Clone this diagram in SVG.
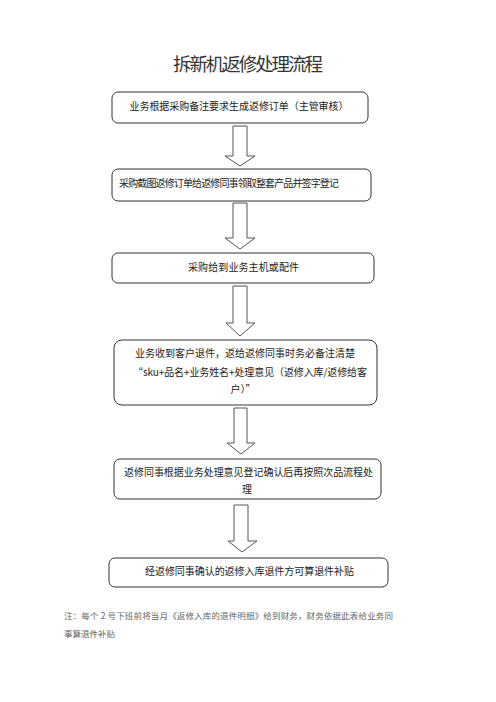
<svg xmlns="http://www.w3.org/2000/svg" width="496" height="702" viewBox="0 0 496 702">
<style>
.box{fill:#fff;stroke:#333;stroke-width:1}
.arr{fill:#fff;stroke:#555;stroke-width:1;stroke-linejoin:miter}
.t{font-family:"Noto Sans CJK SC","Noto Sans",sans-serif;font-size:10px;fill:#222}
.c{text-anchor:middle}
.title{font-family:"Noto Sans CJK SC",sans-serif;font-size:18.5px;fill:#333;text-anchor:middle}
.note{font-family:"Noto Sans CJK SC",serif;font-size:8.5px;fill:#666}
</style>
<rect width="496" height="702" fill="#fff"/>
<text class="title" x="248" y="71" textLength="150">拆新机返修处理流程</text>
<g id="connectors">
<polygon class="arr" points="233,126 247,126 247,156 255,156 240,166 225,156 233,156"/>
<polygon class="arr" points="233,203 247,203 247,238 255,238 240,249 225,238 233,238"/>
<polygon class="arr" points="233,286 247,286 247,323 255,323 240,336 226,323 233,323"/>
<polygon class="arr" points="234,408 247,408 247,443 255,443 241,454 227,443 234,443"/>
<polygon class="arr" points="234,505 248,505 248,541 257,541 242,552 228,541 234,541"/>
</g>
<g id="n1">
<rect class="box" x="112" y="92" width="256" height="31" rx="6"/>
<text class="t c" x="239" y="110" textLength="219">业务根据采购备注要求生成返修订单（主管审核）</text>
</g>
<g id="n2">
<rect class="box" x="112" y="169" width="259" height="32" rx="6"/>
<text class="t" x="119" y="187" textLength="220">采购截图返修订单给返修同事领取整套产品并签字登记</text>
</g>
<g id="n3">
<rect class="box" x="112" y="253" width="262" height="30" rx="6"/>
<text class="t c" x="243.5" y="271" textLength="111">采购给到业务主机或配件</text>
</g>
<g id="n4">
<rect class="box" x="114" y="340" width="263" height="65" rx="8"/>
<text class="t c" x="245" y="357" textLength="220">业务收到客户退件，返给返修同事时务必备注清楚</text>
<text class="t c" x="250" y="376" textLength="234">“sku+品名+业务姓名+处理意见（返修入库/返修给客</text>
<text class="t c" x="243" y="393">户）”</text>
</g>
<g id="n5">
<rect class="box" x="114" y="459" width="267" height="40" rx="6"/>
<text class="t c" x="248.5" y="476" textLength="249">返修同事根据业务处理意见登记确认后再按照次品流程处</text>
<text class="t c" x="247" y="493">理</text>
</g>
<g id="n6">
<rect class="box" x="109" y="558" width="279" height="29" rx="6"/>
<text class="t c" x="249.5" y="575" textLength="209">经返修同事确认的返修入库退件方可算退件补贴</text>
</g>
<g id="note">
<text class="note" x="64" y="619" textLength="329">注：每个 2 号下班前将当月《返修入库的退件明细》给到财务，财务依据此表给业务同</text>
<text class="note" x="64" y="637">事算退件补贴</text>
</g>
</svg>
